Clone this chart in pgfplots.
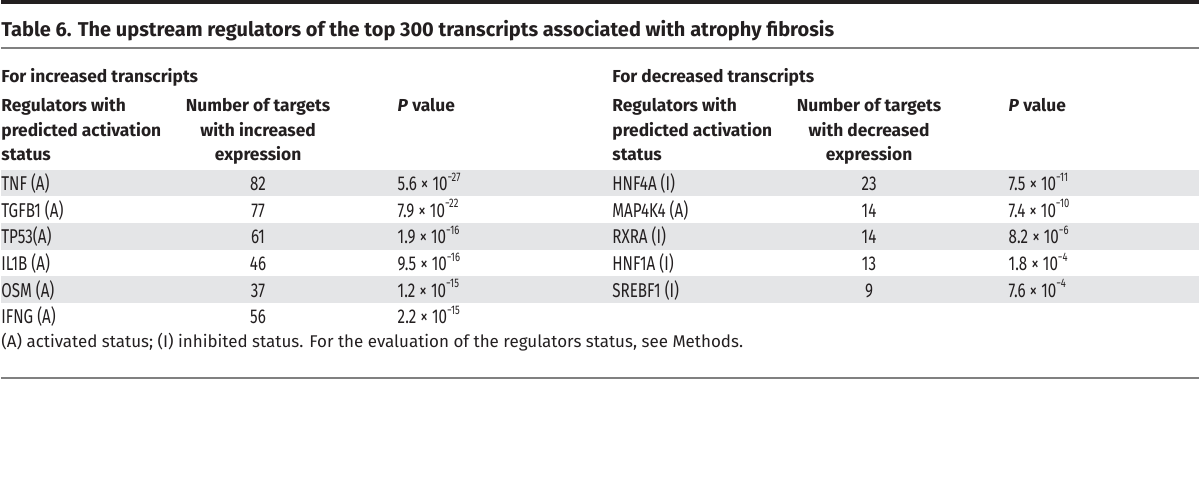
\documentclass[border=0pt]{standalone}
\usepackage{fontspec}
\setmainfont{Fira Sans}
\newfontfamily\cond[FakeStretch=0.76]{Fira Sans}
\usepackage{pgfplots}
\usepackage{pgfplotstable}
\pgfplotsset{compat=1.18}
\definecolor{band}{RGB}{228,229,231}
\definecolor{rulec}{RGB}{128,128,128}
\definecolor{ink}{RGB}{35,31,32}

\pgfplotstableread[col sep=comma]{
row,reg,n,m,e
0,TNF (A),82,5.6,27
1,TGFB1 (A),77,7.9,22
2,TP53(A),61,1.9,16
3,IL1B (A),46,9.5,16
4,OSM (A),37,1.2,15
5,IFNG (A),56,2.2,15
}\inc
\pgfplotstableread[col sep=comma]{
row,reg,n,m,e
0,HNF4A (I),23,7.5,11
1,MAP4K4 (A),14,7.4,10
2,RXRA (I),14,8.2,6
3,HNF1A (I),13,1.8,4
4,SREBF1 (I),9,7.6,4
}\dec

\pgfplotsset{
  celltext/.style={draw=none, mark=none, point meta=explicit symbolic,
    nodes near coords,
    nodes near coords style={font=\cond\fontsize{10}{11}\selectfont, inner sep=0pt, text=ink}},
  pcell/.style={celltext, visualization depends on={\thisrow{e}\as\pexp},
    nodes near coords={\pgfplotspointmeta{} × 10\raisebox{0.9ex}{\fontsize{6.2}{7}\selectfont −\pgfmathprintnumber[fixed,precision=0,assume math mode=true]{\pexp}}}},
}
\tikzset{hd/.style={inner sep=0pt, text=ink, font=\bfseries\fontsize{8.7}{10}\selectfont}}

\begin{document}
\begin{tikzpicture}
\begin{axis}[width=600pt, height=238.5pt, scale only axis,
  xmin=0, xmax=1200, ymin=0, ymax=477, y dir=reverse, hide axis, clip=false]
\path (axis cs:0,0) rectangle (axis cs:1200,477);
% bands
\fill[band] (axis cs:0,170) rectangle (axis cs:1200,196.7);
\fill[band] (axis cs:0,223.3) rectangle (axis cs:1200,250);
\fill[band] (axis cs:0,276.7) rectangle (axis cs:1200,303.3);
% rules
\fill[ink] (axis cs:0,0) rectangle (axis cs:1200,4.5);
\draw[rulec, line width=1pt] (axis cs:0,48) -- (axis cs:1200,48);
\draw[rulec, line width=1pt] (axis cs:0,379) -- (axis cs:1200,379);
% title
\node[inner sep=0pt, text=ink, anchor=base west, font=\bfseries\fontsize{10}{11}\selectfont] at (axis cs:0,37) {Table 6. The upstream regulators of the top 300 transcripts associated with atrophy fibrosis};
% left headers
\node[hd, anchor=base west] at (axis cs:0,83) {For increased transcripts};
\node[hd, anchor=base west] at (axis cs:0,112) {Regulators with};
\node[hd, anchor=base west] at (axis cs:0,136.5) {predicted activation};
\node[hd, anchor=base west] at (axis cs:0,161) {status};
\node[hd, anchor=base] at (axis cs:257.5,112) {Number of targets};
\node[hd, anchor=base] at (axis cs:257.5,136.5) {with increased};
\node[hd, anchor=base] at (axis cs:257.5,161) {expression};
\node[hd, anchor=base west] at (axis cs:397,112) {\textit{P} value};
% right headers
\node[hd, anchor=base west] at (axis cs:612,83) {For decreased transcripts};
\node[hd, anchor=base west] at (axis cs:612,112) {Regulators with};
\node[hd, anchor=base west] at (axis cs:612,136.5) {predicted activation};
\node[hd, anchor=base west] at (axis cs:612,161) {status};
\node[hd, anchor=base] at (axis cs:869.5,112) {Number of targets};
\node[hd, anchor=base] at (axis cs:869.5,136.5) {with decreased};
\node[hd, anchor=base] at (axis cs:869.5,161) {expression};
\node[hd, anchor=base west] at (axis cs:1009,112) {\textit{P} value};
% left data
\addplot[celltext, nodes near coords style={anchor=base west}] table[x expr=0, y expr=191+26.67*\thisrow{row}, meta=reg]{\inc};
\addplot[celltext, nodes near coords style={anchor=base}] table[x expr=257.5, y expr=191+26.67*\thisrow{row}, meta=n]{\inc};
\addplot[pcell, nodes near coords style={anchor=base west}] table[x expr=397, y expr=191+26.67*\thisrow{row}, meta=m]{\inc};
% right data
\addplot[celltext, nodes near coords style={anchor=base west}] table[x expr=612, y expr=191+26.67*\thisrow{row}, meta=reg]{\dec};
\addplot[celltext, nodes near coords style={anchor=base}] table[x expr=869.5, y expr=191+26.67*\thisrow{row}, meta=n]{\dec};
\addplot[pcell, nodes near coords style={anchor=base west}] table[x expr=1009, y expr=191+26.67*\thisrow{row}, meta=m]{\dec};
% footnote
\node[inner sep=0pt, text=ink, anchor=base west, font=\fontsize{8.5}{10}\selectfont] at (axis cs:0,348) {(A) activated status; (I) inhibited status. For the evaluation of the regulators status, see Methods.};
\end{axis}
\end{tikzpicture}
\end{document}
